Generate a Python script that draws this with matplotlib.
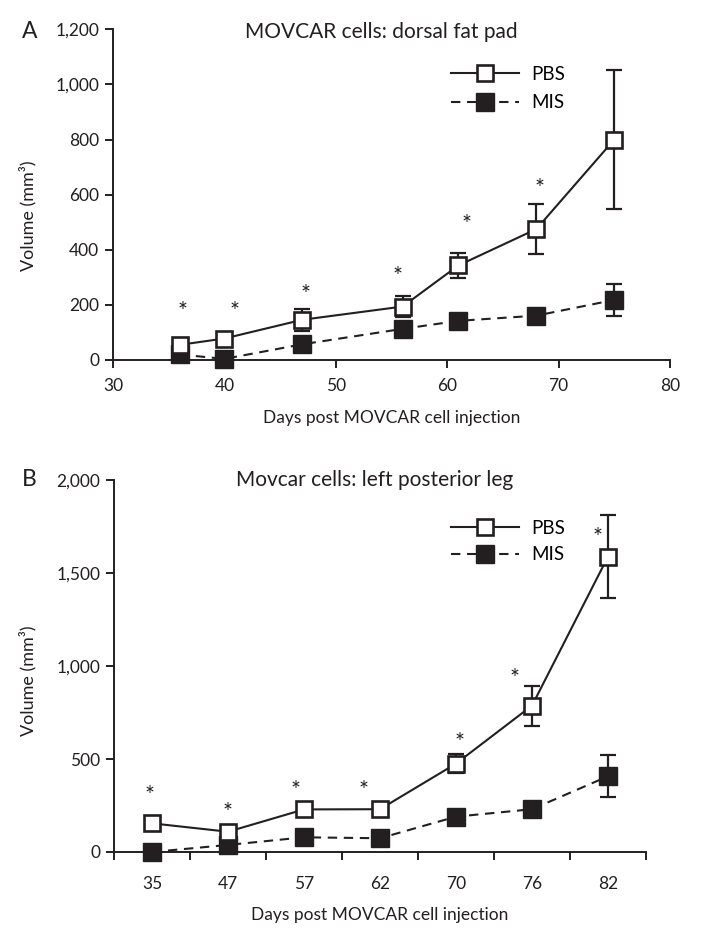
import matplotlib
matplotlib.use('Agg')
import matplotlib.pyplot as plt
from matplotlib.ticker import FuncFormatter

plt.rcParams['font.family'] = ['Lato', 'DejaVu Sans']

ink = '#231f20'

# panel A: dorsal fat pad
days_a = [36, 40, 47, 56, 61, 68, 75]
pbs_a = [55, 78, 146, 194, 343, 475, 800]
pbs_a_err = [0, 0, 39, 39, 47, 90, 253]
mis_a = [20, 4, 57, 113, 142, 161, 218]
mis_a_err = [0, 0, 0, 0, 0, 0, 58]
star_a_x = [36.2, 40.9, 47.3, 55.5, 61.7, 68.3]
star_a_y = [177, 177, 236, 302, 492, 624]

# panel B: left posterior leg
days_b = ['35', '47', '57', '62', '70', '76', '82']
pbs_b = [154, 109, 229, 230, 475, 787, 1588]
pbs_b_err = [0, 0, 0, 0, 52, 107, 224]
mis_b = [0, 38, 79, 74, 190, 230, 407]
mis_b_err = [0, 0, 0, 0, 0, 0, 112]
star_b_off = [-0.03, 0.0, -0.11, -0.22, 0.05, -0.23, -0.14]
star_b_y = [306, 213, 333, 333, 588, 934, 1692]

fig = plt.figure(figsize=(7.08, 9.32), dpi=100)
W, H = 708, 932
axA = fig.add_axes([113/W, 1-360/H, (670-113)/W, (360-29.3)/H])
axB = fig.add_axes([114/W, 1-852/H, (646-114)/W, (852-480)/H])

comma = FuncFormatter(lambda v, p: f'{int(v):,}')


def draw(ax, x, pbs, pbs_err, mis, mis_err):
    for xs, ys, es in [(x, pbs, pbs_err), (x, mis, mis_err)]:
        for xi, yi, ei in zip(xs, ys, es):
            if ei > 0:
                ax.errorbar(xi, yi, yerr=ei, fmt='none', ecolor=ink, elinewidth=1.6,
                            capsize=6, capthick=1.6, zorder=2)
    l2, = ax.plot(x, mis, color=ink, lw=1.5, ls=(0, (4.5, 3.2)), marker='s', ms=12.5,
                  mfc=ink, mec=ink, zorder=3, label='MIS')
    l1, = ax.plot(x, pbs, color=ink, lw=1.5, marker='s', ms=11.5, mfc='white',
                  mec=ink, mew=1.9, zorder=4, label='PBS')
    return l1, l2


def style(ax):
    for s in ['top', 'right']:
        ax.spines[s].set_visible(False)
    for s in ['left', 'bottom']:
        ax.spines[s].set_linewidth(1.4)
        ax.spines[s].set_color(ink)
    ax.tick_params(direction='out', length=5.8, width=1.4, color=ink,
                   labelsize=12.5, labelcolor=ink, pad=4)
    ax.yaxis.set_major_formatter(comma)


# ---- A ----
l1, l2 = draw(axA, days_a, pbs_a, pbs_a_err, mis_a, mis_a_err)
for sx, sy in zip(star_a_x, star_a_y):
    axA.text(sx, sy, '*', ha='center', va='center', fontsize=17, color=ink)
axA.set_xlim(30, 80)
axA.set_ylim(0, 1200)
axA.set_xticks([30, 40, 50, 60, 70, 80])
axA.set_yticks([0, 200, 400, 600, 800, 1000, 1200])
style(axA)
axA.tick_params(axis='x', pad=7)
axA.set_xlabel('Days post MOVCAR cell injection', fontsize=12.5, color=ink, labelpad=12)
axA.legend(handles=[l1, l2], loc='upper left', bbox_to_anchor=(451/W, 1-66/H),
           bbox_transform=fig.transFigure, frameon=False, fontsize=13.5,
           handlelength=3.6, handletextpad=0.7, borderpad=0, borderaxespad=0,
           labelspacing=0.6, numpoints=1)

# ---- B ----
xb = list(range(len(days_b)))
l1, l2 = draw(axB, xb, pbs_b, pbs_b_err, mis_b, mis_b_err)
for i, (off, sy) in enumerate(zip(star_b_off, star_b_y)):
    axB.text(i + off, sy, '*', ha='center', va='center', fontsize=17, color=ink)
axB.set_xlim(-0.5, len(days_b) - 0.5)
axB.set_ylim(0, 2000)
axB.set_yticks([0, 500, 1000, 1500, 2000])
style(axB)
axB.set_xticks(xb)
axB.set_xticklabels(days_b)
axB.set_xticks([i - 0.5 for i in range(len(days_b) + 1)], minor=True)
axB.tick_params(axis='x', which='major', length=0, pad=17)
axB.tick_params(axis='x', which='minor', direction='out', length=5.8, width=1.4, color=ink)
axB.set_xlabel('Days post MOVCAR cell injection', fontsize=12.5, color=ink, labelpad=11)
axB.legend(handles=[l1, l2], loc='upper left', bbox_to_anchor=(451/W, 1-520/H),
           bbox_transform=fig.transFigure, frameon=False, fontsize=13.5,
           handlelength=3.6, handletextpad=0.7, borderpad=0, borderaxespad=0,
           labelspacing=0.5, numpoints=1)

for ax in (axA, axB):
    for art in ax.get_children():
        try:
            art.set_clip_on(False)
        except Exception:
            pass

# titles, panel letters, y labels
fig.text(245/W, 1-32/H, 'MOVCAR cells: dorsal fat pad', ha='left', va='center',
         fontsize=15, color=ink)
fig.text(236/W, 1-480/H, 'Movcar cells: left posterior leg', ha='left', va='center',
         fontsize=15, color=ink)
fig.text(22/W, 1-32/H, 'A', ha='left', va='center', fontsize=16.5, color=ink)
fig.text(22/W, 1-480/H, 'B', ha='left', va='center', fontsize=16.5, color=ink)
fig.text(28/W, 1-216/H, 'Volume (mm³)', rotation=90, ha='center', va='center',
         fontsize=13, color=ink)
fig.text(28/W, 1-681/H, 'Volume (mm³)', rotation=90, ha='center', va='center',
         fontsize=13, color=ink)

fig.savefig('out.png', dpi=100)
